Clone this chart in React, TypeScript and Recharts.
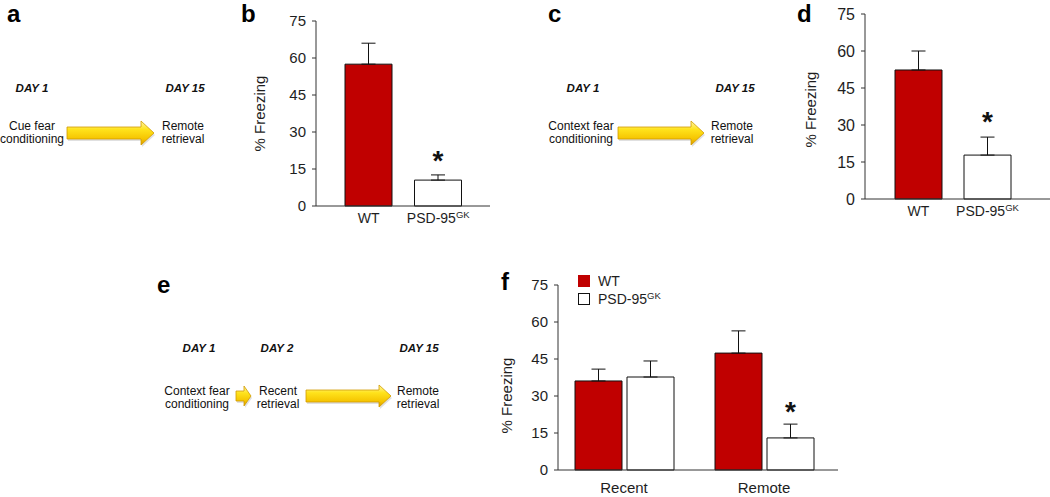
import { BarChart, Bar, XAxis, YAxis, ErrorBar, Cell, LabelList, Legend } from 'recharts'

const FONT = '"Liberation Sans", Arial, Helvetica, sans-serif'
const RED = '#C00000'
const WHITE = '#FFFFFF'
const INK = '#1e1e1e'
const AXIS = '#333333'

// values (% freezing, mean and one-sided SEM)
const groups = ['WT', 'PSD-95^GK']
const groupFills = [RED, WHITE]
const cueMean = [57.5, 10.5]
const cueSem = [8.5, 2.1]
const cueSig = ['', '*']
const ctxMean = [52.3, 17.8]
const ctxSem = [7.7, 7.3]
const ctxSig = ['', '*']

const sessions = ['Recent', 'Remote']
const wtMean = [36.1, 47.4]
const wtSem = [4.8, 9.0]
const gkMean = [37.7, 13.0]
const gkSem = [6.5, 5.6]
const gkSig = ['', '*']

const yTicks = [0, 15, 30, 45, 60, 75]

const cueData = groups.map((g, i) => ({ group: g, mean: cueMean[i], err: [0, cueSem[i]], sig: cueSig[i] }))
const ctxData = groups.map((g, i) => ({ group: g, mean: ctxMean[i], err: [0, ctxSem[i]], sig: ctxSig[i] }))
const sessData = sessions.map((s, i) => ({
  session: s,
  wt: wtMean[i],
  wtErr: [0, wtSem[i]],
  gk: gkMean[i],
  gkErr: [0, gkSem[i]],
  sig: gkSig[i],
}))

function SupText({ value, size }: { value: string; size: number }) {
  const [base, sup] = String(value).split('^')
  return (
    <>
      <tspan>{base}</tspan>
      {sup && (
        <tspan fontSize={size * 0.68} dy={-size * 0.36}>
          {sup}
        </tspan>
      )}
    </>
  )
}

function CatTick({ x, y, payload, size = 14 }: any) {
  return (
    <text x={x} y={y} dy="0.71em" textAnchor="middle" fill={INK} fontSize={size} fontFamily={FONT}>
      <SupText value={payload.value} size={size} />
    </text>
  )
}

function FreezeLabel({ viewBox, shiftX = 0, shiftY = 0, size = 14 }: any) {
  if (!viewBox) return null
  const cx = viewBox.x + shiftX
  const cy = viewBox.y + viewBox.height / 2 + shiftY
  return (
    <text
      x={cx}
      y={cy}
      transform={`rotate(-90 ${cx} ${cy})`}
      textAnchor="middle"
      dominantBaseline="central"
      fill={INK}
      fontSize={size}
      fontFamily={FONT}
    >
      % Freezing
    </text>
  )
}

function Star(props: any) {
  const { value, lift = 10 } = props
  if (!value) return null
  const vb = props.viewBox ?? props
  return (
    <text x={vb.x + vb.width / 2} y={vb.y - lift} textAnchor="middle" fontSize={28} fontWeight="bold" fontFamily={FONT} fill="#111">
      {value}
    </text>
  )
}

const legendOrder = ['WT', 'PSD-95^GK']

function KeyBox({ payload }: any) {
  const items = [...(payload || [])].sort((a: any, b: any) => legendOrder.indexOf(a.value) - legendOrder.indexOf(b.value))
  return (
    <div style={{ fontFamily: FONT, fontSize: 14, color: INK }}>
      {items.map((entry: any) => (
        <div key={entry.value} style={{ display: 'flex', alignItems: 'center', height: 18 }}>
          <span
            style={{
              display: 'inline-block',
              width: 12,
              height: 12,
              boxSizing: 'border-box',
              background: entry.color,
              border: entry.color === WHITE ? '1.5px solid #111' : 'none',
            }}
          />
          <svg width={80} height={18} style={{ marginLeft: 8 }}>
            <text x={0} y={14} fill={INK} fontSize={14} fontFamily={FONT}>
              <SupText value={entry.value} size={14} />
            </text>
          </svg>
        </div>
      ))}
    </div>
  )
}

function SimpleBars({ data, width, height, margin, yWidth, pad, tickSize, labelX, labelY, lift }: any) {
  return (
    <BarChart width={width} height={height} data={data} margin={margin}>
      <XAxis
        dataKey="group"
        height={30}
        padding={pad}
        tickLine={false}
        tickSize={0}
        tickMargin={7}
        axisLine={{ stroke: AXIS }}
        interval={0}
        tick={<CatTick size={14} />}
      />
      <YAxis
        domain={[0, 75]}
        ticks={yTicks}
        interval={0}
        width={yWidth}
        tickSize={4}
        tickMargin={6}
        axisLine={{ stroke: AXIS }}
        tickLine={{ stroke: AXIS }}
        tick={{ fill: INK, fontSize: tickSize, fontFamily: FONT }}
        label={<FreezeLabel shiftX={labelX} shiftY={labelY} size={15} />}
      />
      <Bar dataKey="mean" barSize={47} stroke="#111" strokeWidth={1} isAnimationActive={false}>
        {data.map((_: any, i: number) => (
          <Cell key={i} fill={groupFills[i]} />
        ))}
        <ErrorBar dataKey="err" direction="y" width={7} stroke="#111" strokeWidth={1} isAnimationActive={false} />
        <LabelList dataKey="sig" content={<Star lift={lift} />} />
      </Bar>
    </BarChart>
  )
}

function Arrow({ x0, x1, yc, shaft, head, headLen }: any) {
  const pts = [
    [x0, yc - shaft / 2],
    [x1 - headLen, yc - shaft / 2],
    [x1 - headLen, yc - head / 2],
    [x1, yc],
    [x1 - headLen, yc + head / 2],
    [x1 - headLen, yc + shaft / 2],
    [x0, yc + shaft / 2],
  ]
  const str = (dx: number, dy: number) => pts.map(([x, y]) => `${x + dx},${y + dy}`).join(' ')
  return (
    <g>
      <polygon points={str(1, 2)} fill="#000" opacity={0.12} />
      <polygon points={str(0, 0)} fill="url(#gold)" stroke="#D09A00" strokeWidth={0.8} />
    </g>
  )
}

function Day({ x, y, children }: any) {
  return (
    <text x={x} y={y} textAnchor="middle" fontSize={11.5} fontWeight="bold" fontStyle="italic" fill="#111" fontFamily={FONT}>
      {children}
    </text>
  )
}

function Two({ x, y, lines }: any) {
  return (
    <text x={x} y={y} textAnchor="middle" fontSize={12} fill="#111" fontFamily={FONT}>
      <tspan x={x}>{lines[0]}</tspan>
      <tspan x={x} dy={13}>
        {lines[1]}
      </tspan>
    </text>
  )
}

function Letter({ x, y, children }: any) {
  return (
    <text x={x} y={y} fontSize={24} fontWeight="bold" fill="#000" fontFamily={FONT}>
      {children}
    </text>
  )
}

function Schemes() {
  return (
    <svg width={1050} height={497} style={{ position: 'absolute', left: 0, top: 0 }}>
      <defs>
        <linearGradient id="gold" x1="0" y1="0" x2="0" y2="1">
          <stop offset="0" stopColor="#FFF6A8" />
          <stop offset="0.35" stopColor="#FFE31C" />
          <stop offset="0.75" stopColor="#F5C400" />
          <stop offset="1" stopColor="#D99A00" />
        </linearGradient>
      </defs>
      <Letter x={7} y={22}>a</Letter>
      <Letter x={241} y={22}>b</Letter>
      <Letter x={548} y={22}>c</Letter>
      <Letter x={797} y={22}>d</Letter>
      <Letter x={157} y={293}>e</Letter>
      <Letter x={501} y={290}>f</Letter>

      <Day x={32} y={92}>DAY 1</Day>
      <Day x={185} y={92}>DAY 15</Day>
      <Two x={32} y={130} lines={['Cue fear', 'conditioning']} />
      <Two x={183} y={130} lines={['Remote', 'retrieval']} />
      <Arrow x0={67} x1={154} yc={133} shaft={12} head={24} headLen={13} />

      <Day x={583} y={92}>DAY 1</Day>
      <Day x={735} y={92}>DAY 15</Day>
      <Two x={581} y={130} lines={['Context fear', 'conditioning']} />
      <Two x={732} y={130} lines={['Remote', 'retrieval']} />
      <Arrow x0={618} x1={704} yc={133} shaft={12} head={24} headLen={13} />

      <Day x={199} y={352}>DAY 1</Day>
      <Day x={277} y={352}>DAY 2</Day>
      <Day x={419} y={352}>DAY 15</Day>
      <Two x={197} y={395} lines={['Context fear', 'conditioning']} />
      <Two x={278} y={395} lines={['Recent', 'retrieval']} />
      <Two x={418} y={395} lines={['Remote', 'retrieval']} />
      <Arrow x0={236} x1={251} yc={396} shaft={10} head={20} headLen={7} />
      <Arrow x0={306} x1={391} yc={396} shaft={12} head={22} headLen={12} />
    </svg>
  )
}

export default function App() {
  return (
    <div style={{ position: 'absolute', left: 0, top: 0, width: 1050, height: 497, background: '#fff', overflow: 'hidden' }}>
      <Schemes />

      <div style={{ position: 'absolute', left: 230, top: 0 }}>
        <SimpleBars
          data={cueData}
          width={260}
          height={240}
          margin={{ top: 21, right: 0, left: 0, bottom: 4 }}
          yWidth={86}
          pad={{ left: 18, right: 17 }}
          tickSize={15}
          labelX={29}
          labelY={0}
          lift={10}
        />
      </div>

      <div style={{ position: 'absolute', left: 780, top: 0 }}>
        <SimpleBars
          data={ctxData}
          width={270}
          height={235}
          margin={{ top: 14, right: 0, left: 0, bottom: 6 }}
          yWidth={85}
          pad={{ left: 19, right: 28 }}
          tickSize={16}
          labelX={30}
          labelY={3}
          lift={24}
        />
      </div>

      <div style={{ position: 'absolute', left: 470, top: 260 }}>
        <BarChart width={380} height={237} data={sessData} margin={{ top: 25, right: 12, left: 0, bottom: 0 }} barGap={5}>
          <XAxis
            dataKey="session"
            height={27}
            padding={{ left: -4, right: 4 }}
            tickLine={false}
            tickSize={0}
            tickMargin={12}
            axisLine={{ stroke: AXIS }}
            interval={0}
            tick={<CatTick size={15} />}
          />
          <YAxis
            domain={[0, 75]}
            ticks={yTicks}
            interval={0}
            width={88}
            tickSize={4}
            tickMargin={6}
            axisLine={{ stroke: AXIS }}
            tickLine={{ stroke: AXIS }}
            tick={{ fill: INK, fontSize: 15, fontFamily: FONT }}
            label={<FreezeLabel shiftX={36} shiftY={18} size={15} />}
          />
          <Legend
            layout="vertical"
            align="center"
            verticalAlign="middle"
            wrapperStyle={{ left: 108, top: 12, width: 'auto', height: 'auto' }}
            content={<KeyBox />}
          />
          <Bar dataKey="wt" name="WT" fill={RED} barSize={47} stroke="#111" strokeWidth={1} isAnimationActive={false}>
            <ErrorBar dataKey="wtErr" direction="y" width={7} stroke="#111" strokeWidth={1} isAnimationActive={false} />
          </Bar>
          <Bar dataKey="gk" name="PSD-95^GK" fill={WHITE} barSize={47} stroke="#111" strokeWidth={1} isAnimationActive={false}>
            <ErrorBar dataKey="gkErr" direction="y" width={7} stroke="#111" strokeWidth={1} isAnimationActive={false} />
            <LabelList dataKey="sig" content={<Star lift={17} />} />
          </Bar>
        </BarChart>
      </div>
    </div>
  )
}
